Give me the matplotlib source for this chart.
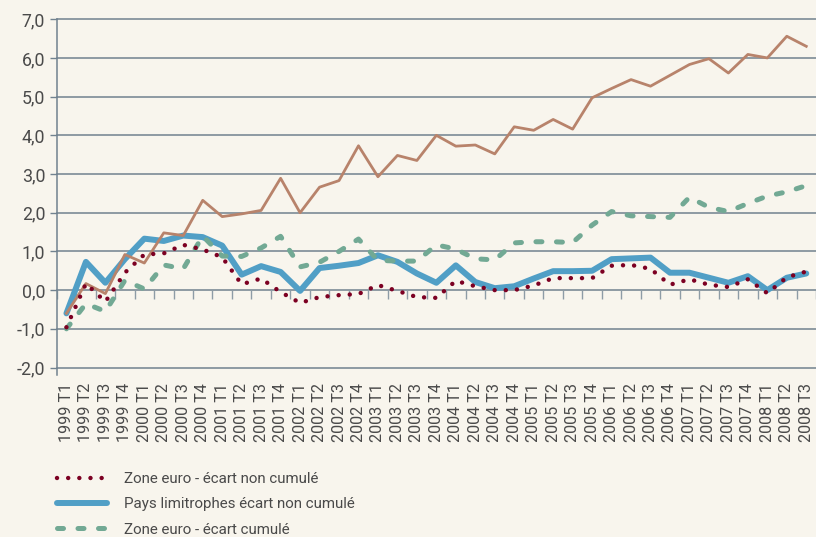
import numpy as np
import matplotlib
matplotlib.use('Agg')
import matplotlib.pyplot as plt
from matplotlib.transforms import ScaledTranslation

# quarters 1999 T1 .. 2008 T3
quarters = [f"{1999 + k // 4} T{k % 4 + 1}" for k in range(39)]

zone_euro_non_cumule = [
    -0.96, 0.17, -0.30, 0.45, 0.92, 0.95, 1.17, 1.05, 0.85, 0.15,
    0.30, -0.05, -0.33, -0.18, -0.13, -0.10, 0.13, -0.02, -0.18, -0.20,
    0.24, 0.10, 0.00, 0.00, 0.12, 0.31, 0.31, 0.31, 0.63, 0.65,
    0.55, 0.14, 0.28, 0.14, 0.08, 0.28, -0.08, 0.33, 0.48]

limitrophes_non_cumule = [
    -0.60, 0.73, 0.19, 0.80, 1.33, 1.27, 1.41, 1.37, 1.15, 0.40,
    0.62, 0.47, -0.02, 0.57, 0.63, 0.70, 0.90, 0.73, 0.43, 0.19,
    0.64, 0.21, 0.05, 0.10, 0.30, 0.49, 0.49, 0.50, 0.80, 0.82,
    0.84, 0.45, 0.45, 0.32, 0.19, 0.36, 0.00, 0.32, 0.43]

zone_euro_cumule = [
    -1.00, -0.35, -0.55, 0.25, 0.03, 0.65, 0.55, 1.40, 0.88, 0.87,
    1.09, 1.39, 0.60, 0.72, 1.00, 1.32, 0.77, 0.75, 0.75, 1.17,
    1.06, 0.81, 0.78, 1.22, 1.25, 1.25, 1.23, 1.68, 2.03, 1.92,
    1.90, 1.88, 2.40, 2.14, 2.03, 2.24, 2.43, 2.54, 2.70]

# brown line, its legend entry falls below the visible area
limitrophes_cumule = [
    -0.60, 0.17, -0.09, 0.92, 0.70, 1.48, 1.41, 2.32, 1.90, 1.97,
    2.06, 2.89, 2.00, 2.66, 2.83, 3.73, 2.93, 3.48, 3.35, 4.00,
    3.72, 3.75, 3.52, 4.22, 4.13, 4.41, 4.16, 4.97, 5.21, 5.44,
    5.27, 5.55, 5.83, 5.98, 5.61, 6.09, 6.00, 6.56, 6.30]

y_ticks = [-2, -1, 0, 1, 2, 3, 4, 5, 6, 7]
y_labels = ["-2,0", "-1,0", "0,0", "1,0", "2,0", "3,0", "4,0", "5,0", "6,0", "7,0"]

bg = '#f8f5ed'
grid_col = '#71828f'
text_col = '#4a4a4a'

plt.rcParams['font.family'] = ['Roboto', 'DejaVu Sans']

fig = plt.figure(figsize=(8.16, 5.37), dpi=100, facecolor=bg)
ax = fig.add_axes([0.0695, 0.3156, 0.9305, 0.6486])
ax.set_facecolor(bg)

x = np.arange(len(quarters))

blue, = ax.plot(x, limitrophes_non_cumule, color='#519fc6', lw=4.3,
                solid_capstyle='round', solid_joinstyle='round', zorder=3,
                label='Pays limitrophes écart non cumulé')
brown, = ax.plot(x, limitrophes_cumule, color='#b8836b', lw=2.0,
                 solid_joinstyle='round', zorder=4)
green, = ax.plot(x, zone_euro_cumule, color='#72a994', lw=3.6,
                 linestyle=(0, (1.2, 2.9)), dash_capstyle='round', zorder=4,
                 label='Zone euro - écart cumulé')
red, = ax.plot(x, zone_euro_non_cumule, color='#7c0022', lw=3.2,
               linestyle=(0, (0.01, 2.5)), dash_capstyle='round', zorder=5,
               label='Zone euro - écart non cumulé')

ax.set_xlim(-0.5, len(quarters) - 0.5)
ax.set_ylim(-2, 7)

# category ticks hanging under the zero line
ax.vlines(np.arange(len(quarters) + 1) - 0.5, -0.22, 0, color='#8e9ca6', lw=1.0, zorder=2)

ax.set_yticks(y_ticks)
ax.set_yticklabels(y_labels)
ax.grid(axis='y', color=grid_col, lw=1.1, zorder=1)
for gl in ax.get_ygridlines():
    gl.set_clip_on(False)

ax.set_xticks(x)
ax.set_xticklabels(quarters, rotation=90, fontsize=11.7, color=text_col)
for lab in ax.get_xticklabels():
    lab.set_transform(lab.get_transform() + ScaledTranslation(-4 / 100, 0, fig.dpi_scale_trans))
ax.tick_params(axis='x', length=0, pad=11)
ax.tick_params(axis='y', length=4.8, width=1.0, color=grid_col, pad=3.5,
               labelsize=12.8, labelcolor=text_col)

for s in ['top', 'right', 'bottom']:
    ax.spines[s].set_visible(False)
ax.spines['left'].set_color(grid_col)
ax.spines['left'].set_linewidth(1.1)
ax.spines['left'].set_bounds(-2.2, 7)

leg = ax.legend(handles=[red, blue, green], loc='upper left',
                bbox_to_anchor=(0.0695, 0.121), bbox_transform=fig.transFigure,
                frameon=False, fontsize=10.9, handlelength=3.3, handletextpad=1.15,
                labelspacing=0.75, borderaxespad=0, borderpad=0)
for t in leg.get_texts():
    t.set_color(text_col)

fig.savefig('out.png', dpi=100, facecolor=bg)
